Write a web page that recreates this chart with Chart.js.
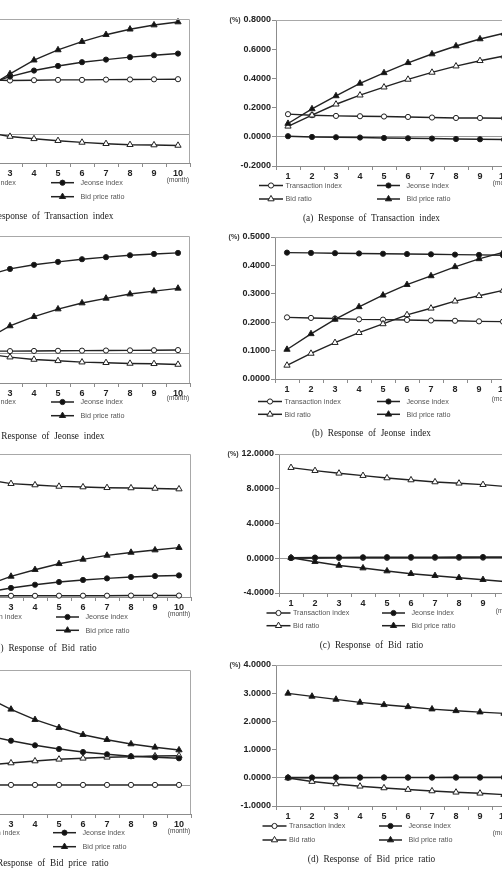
<!DOCTYPE html>
<html><head><meta charset="utf-8">
<script src="https://cdn.jsdelivr.net/npm/chart.js@4/dist/chart.umd.min.js"></script>
<style>
html,body{margin:0;padding:0;width:502px;height:871px;overflow:hidden;background:#fff;position:relative}
canvas{position:absolute}
.cap{position:absolute;font-family:'Liberation Serif','Times New Roman',serif;font-size:9.3px;word-spacing:2.5px;color:#222;white-space:nowrap;transform:translate(-50%,-50%)}
</style></head><body>
<script>
const months = ['1','2','3','4','5','6','7','8','9','10'];
const seriesNames = ['Transaction index','Jeonse index','Bid ratio','Bid price ratio'];
const captions = ['(a) Response of Transaction index','(b) Response of Jeonse index','(c) Response of Bid ratio','(d) Response of Bid price ratio'];

// Right column
const rA_transaction = [0.155,0.148,0.143,0.141,0.139,0.136,0.132,0.129,0.129,0.127];
const rA_jeonse      = [0.004,-0.001,-0.003,-0.005,-0.008,-0.010,-0.012,-0.015,-0.017,-0.019];
const rA_bidRatio    = [0.072,0.148,0.223,0.285,0.340,0.393,0.441,0.484,0.521,0.553];
const rA_bidPrice    = [0.091,0.191,0.280,0.366,0.438,0.507,0.567,0.622,0.670,0.709];
const rA_yAxis = [-0.2, 0.8, 0.2];

const rB_transaction = [0.217,0.215,0.213,0.210,0.209,0.208,0.206,0.205,0.203,0.202];
const rB_jeonse      = [0.445,0.444,0.443,0.442,0.441,0.440,0.439,0.438,0.437,0.436];
const rB_bidRatio    = [0.048,0.090,0.128,0.163,0.194,0.226,0.249,0.274,0.293,0.312];
const rB_bidPrice    = [0.104,0.159,0.210,0.254,0.295,0.332,0.363,0.395,0.423,0.446];
const rB_yAxis = [0, 0.5, 0.1];

const rC_transaction = [0.02,0.03,0.04,0.05,0.05,0.06,0.06,0.06,0.07,0.07];
const rC_jeonse      = [0.05,0.08,0.10,0.11,0.12,0.13,0.13,0.14,0.14,0.15];
const rC_bidRatio    = [10.43,10.08,9.78,9.51,9.24,9.01,8.78,8.63,8.47,8.24];
const rC_bidPrice    = [0.05,-0.40,-0.83,-1.13,-1.47,-1.78,-2.01,-2.24,-2.47,-2.70];
const rC_yAxis = [-4, 12, 4];

const rD_transaction = [0.003,0.004,0.004,0.005,0.005,0.005,0.006,0.006,0.006,0.007];
const rD_jeonse      = [0.010,0.010,0.012,0.013,0.015,0.015,0.016,0.018,0.019,0.020];
const rD_bidRatio    = [-0.005,-0.133,-0.218,-0.300,-0.360,-0.417,-0.467,-0.513,-0.549,-0.595];
const rD_bidPrice    = [2.994,2.888,2.781,2.674,2.589,2.518,2.436,2.376,2.330,2.283];
const rD_yAxis = [-1, 4, 1];

// Left column
const lA_transaction = [0.380,0.378,0.373,0.375,0.377,0.377,0.379,0.380,0.381,0.382];
const lA_jeonse      = [0.280,0.345,0.400,0.442,0.474,0.500,0.518,0.535,0.548,0.560];
const lA_bidRatio    = [0.040,0.013,-0.016,-0.032,-0.045,-0.057,-0.066,-0.073,-0.075,-0.078];
const lA_bidPrice    = [0.200,0.319,0.419,0.514,0.585,0.643,0.691,0.729,0.758,0.779];
const lA_yAxis = [-0.2, 0.8, 0.2];

const lB_transaction = [0.018,0.017,0.017,0.018,0.019,0.020,0.021,0.022,0.023,0.024];
const lB_jeonse      = [0.470,0.530,0.576,0.604,0.624,0.642,0.656,0.669,0.678,0.685];
const lB_bidRatio    = [0.020,-0.002,-0.024,-0.040,-0.049,-0.058,-0.062,-0.067,-0.069,-0.074];
const lB_bidPrice    = [0.000,0.096,0.188,0.251,0.303,0.344,0.376,0.405,0.425,0.444];
const lB_yAxis = [-0.2, 0.8, 0.2];

const lC_transaction = [0.08,0.09,0.10,0.10,0.11,0.11,0.11,0.12,0.12,0.12];
const lC_jeonse      = [0.00,0.40,0.76,1.03,1.26,1.43,1.56,1.68,1.76,1.81];
const lC_bidRatio    = [10.10,9.84,9.51,9.40,9.28,9.23,9.17,9.15,9.11,9.06];
const lC_bidPrice    = [0.00,1.00,1.73,2.29,2.79,3.16,3.49,3.74,3.94,4.14];
const lC_yAxis = [0, 12, 2];

const lD_transaction = [0.01,0.01,0.01,0.01,0.01,0.01,0.01,0.01,0.01,0.01];
const lD_jeonse      = [1.92,1.72,1.545,1.385,1.257,1.153,1.073,1.003,0.969,0.934];
const lD_bidRatio    = [0.62,0.70,0.771,0.840,0.899,0.934,0.969,0.990,1.014,1.024];
const lD_bidPrice    = [3.55,3.05,2.635,2.274,1.997,1.753,1.580,1.431,1.316,1.222];
const lD_yAxis = [-1, 4, 1];

// layout (page pixels)
const panels = [
  {cl:200, L:276, T:20,  B:166, y:rA_yAxis, d:[rA_transaction,rA_jeonse,rA_bidRatio,rA_bidPrice], leg:{c1:-17,c2:101,r1:19.5,r2:33},  mDy:17.6, cap:captions[0], cx:371.5, cy:218},
  {cl:200, L:275, T:237, B:379, y:rB_yAxis, d:[rB_transaction,rB_jeonse,rB_bidRatio,rB_bidPrice], leg:{c1:-17,c2:102,r1:22.5,r2:35.3},mDy:20,   cap:captions[1], cx:371.5, cy:433.3},
  {cl:200, L:279, T:454, B:593, y:rC_yAxis, d:[rC_transaction,rC_jeonse,rC_bidRatio,rC_bidPrice], leg:{c1:-12.5,c2:103,r1:20,r2:32.7}, mDy:18.7, cap:captions[2], cx:371.5, cy:645},
  {cl:200, L:276, T:665, B:806, y:rD_yAxis, d:[rD_transaction,rD_jeonse,rD_bidRatio,rD_bidPrice], leg:{c1:-13.5,c2:103,r1:20,r2:34},   mDy:27,   cap:captions[3], cx:371.5, cy:859.3},
  {cl:-130, L:-50, T:19,  B:163, y:lA_yAxis, d:[lA_transaction,lA_jeonse,lA_bidRatio,lA_bidPrice], leg:{c1:-17,c2:101,r1:19.7,r2:33.7}, mDy:17.7, cap:captions[0], cx:45, cy:216},
  {cl:-130, L:-50, T:236, B:383, y:lB_yAxis, d:[lB_transaction,lB_jeonse,lB_bidRatio,lB_bidPrice], leg:{c1:-17,c2:101,r1:19,r2:32.7},   mDy:15.7, cap:captions[1], cx:45, cy:436},
  {cl:-130, L:-49, T:454, B:597, y:lC_yAxis, d:[lC_transaction,lC_jeonse,lC_bidRatio,lC_bidPrice], leg:{c1:-12,c2:105,r1:20,r2:33.3},   mDy:17,   cap:captions[2], cx:45, cy:648.3},
  {cl:-130, L:-49, T:670, B:814, y:lD_yAxis, d:[lD_transaction,lD_jeonse,lD_bidRatio,lD_bidPrice], leg:{c1:-14,c2:102,r1:18.7,r2:32.7}, mDy:17,   cap:captions[3], cx:45, cy:863.3}
];

const styles = [
  {ps:'circle',   r:2.6, fill:'#ffffff', order:3},
  {ps:'circle',   r:2.6, fill:'#111111', order:0},
  {ps:'triangle', r:3.6, fill:'#ffffff', order:2},
  {ps:'triangle', r:3.6, fill:'#111111', order:1}
];

const LINE = '#222222', AXIS = '#8c8c8c', FRAME = '#a8a8a8';
const TICKFONT = {family:'"Liberation Sans", Arial, sans-serif', size:9, weight:'bold'};

function drawMarker(ctx, s, x, y) {
  ctx.beginPath();
  if (s.ps === 'circle') ctx.arc(x, y, s.r, 0, Math.PI*2);
  else {
    let a = 0;
    ctx.moveTo(x + Math.sin(a)*s.r, y - Math.cos(a)*s.r);
    a += Math.PI*2/3; ctx.lineTo(x + Math.sin(a)*s.r, y - Math.cos(a)*s.r);
    a += Math.PI*2/3; ctx.lineTo(x + Math.sin(a)*s.r, y - Math.cos(a)*s.r);
    ctx.closePath();
  }
  ctx.fillStyle = s.fill; ctx.fill();
  ctx.lineWidth = 1; ctx.strokeStyle = LINE; ctx.stroke();
}

const decor = {
  id: 'decor',
  afterDraw(chart) {
    const p = chart.options.plugins.decor.panel;
    const ctx = chart.ctx, a = chart.chartArea;
    ctx.save();
    // frame (top + right)
    ctx.strokeStyle = FRAME; ctx.lineWidth = 1;
    ctx.beginPath();
    ctx.moveTo(a.left, Math.round(a.top) + 0.5);
    ctx.lineTo(Math.round(a.right) - 0.5, Math.round(a.top) + 0.5);
    ctx.lineTo(Math.round(a.right) - 0.5, a.bottom);
    ctx.stroke();
    // (%) label
    ctx.font = 'bold 9px "Liberation Sans", Arial, sans-serif';
    const w = ctx.measureText(p.y[1].toFixed(4)).width;
    ctx.font = 'bold 7px "Liberation Sans", Arial, sans-serif';
    ctx.fillStyle = '#333'; ctx.textAlign = 'right'; ctx.textBaseline = 'middle';
    ctx.fillText('(%)', a.left - 5 - w - 3, a.top);
    // (month)
    const xs = chart.scales.x;
    ctx.font = '6.5px "Liberation Sans", Arial, sans-serif';
    ctx.fillStyle = '#444'; ctx.textAlign = 'center';
    ctx.fillText('(month)', xs.getPixelForValue(9), a.bottom + p.mDy);
    // legend
    const lg = p.leg;
    ctx.font = '7.2px "Liberation Sans", Arial, sans-serif';
    ctx.textAlign = 'left'; ctx.fillStyle = '#555';
    chart.data.datasets.forEach((ds, i) => {
      const col = i % 2, row = i >> 1;
      const sx = a.left + (col ? lg.c2 : lg.c1);
      const len = col ? 23 : 24;
      const yy = a.bottom + (row ? lg.r2 : lg.r1);
      ctx.strokeStyle = LINE; ctx.lineWidth = 1.5;
      ctx.beginPath(); ctx.moveTo(sx, yy); ctx.lineTo(sx + len, yy); ctx.stroke();
      drawMarker(ctx, styles[i], sx + len/2, yy);
      ctx.fillStyle = '#555';
      ctx.fillText(ds.label, sx + len + (col ? 6.5 : 2.5), yy + 0.5);
    });
    ctx.restore();
  }
};

panels.forEach(p => {
  const W = 340, padTop = 12, xH = 14, padBot = 50;
  const H = padTop + (p.B - p.T) + xH + padBot;
  const yW = p.L - p.cl;
  const cv = document.createElement('canvas');
  cv.width = W; cv.height = H;
  cv.style.left = p.cl + 'px'; cv.style.top = (p.T - padTop) + 'px';
  cv.style.width = W + 'px'; cv.style.height = H + 'px';
  document.body.appendChild(cv);

  const cap = document.createElement('div');
  cap.className = 'cap'; cap.textContent = p.cap;
  cap.style.left = p.cx + 'px'; cap.style.top = p.cy + 'px';
  document.body.appendChild(cap);

  new Chart(cv, {
    type: 'line',
    data: {
      labels: months,
      datasets: p.d.map((vals, i) => ({
        label: seriesNames[i], data: vals, order: styles[i].order,
        borderColor: LINE, borderWidth: 1.4, tension: 0, fill: false,
        pointStyle: styles[i].ps, pointRadius: styles[i].r, pointBackgroundColor: styles[i].fill,
        pointBorderColor: LINE, pointBorderWidth: 1, clip: false
      }))
    },
    options: {
      responsive: false, animation: false, devicePixelRatio: 1,
      layout: {padding: {top: padTop, bottom: padBot, left: 0, right: W - yW - 240}},
      plugins: {legend: {display: false}, tooltip: {enabled: false}, decor: {panel: p}},
      scales: {
        x: {
          type: 'category', offset: true,
          grid: {offset: true, drawOnChartArea: false, tickLength: 4, tickColor: AXIS},
          border: {color: AXIS, width: 1},
          ticks: {font: TICKFONT, color: '#222', padding: 1, maxRotation: 0, autoSkip: false},
          afterFit: s => { s.height = xH; }
        },
        y: {
          min: p.y[0], max: p.y[1],
          ticks: {stepSize: p.y[2], font: TICKFONT, color: '#222', padding: 1, callback: v => Number(v).toFixed(4)},
          grid: {drawOnChartArea: true, tickLength: 4, tickColor: AXIS,
                 color: c => (c.tick && Math.abs(c.tick.value) < 1e-9) ? '#9a9a9a' : 'rgba(0,0,0,0)'},
          border: {color: AXIS, width: 1},
          afterFit: s => { s.width = yW; }
        }
      }
    },
    plugins: [decor]
  });
});
</script>
</body></html>
